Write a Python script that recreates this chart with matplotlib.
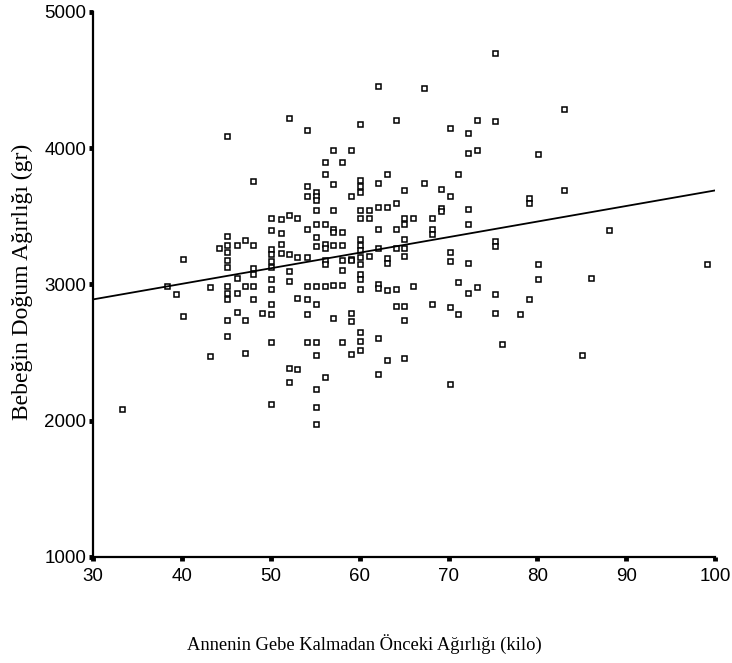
import matplotlib
matplotlib.use("Agg")
import matplotlib.pyplot as plt
import numpy as np

# mother's pre-pregnancy weight (kg) -> baby's birth weight (g)
weights = {
    33.3: [2083],
    38.3: [2985],
    39.3: [2927],
    40.1: [3183, 2765],
    43.2: [2978, 2472],
    44.2: [3271],
    45.1: [4086, 3352, 3293, 3240, 3176, 3130, 2985, 2940, 2890, 2736, 2618],
    46.2: [3293, 3044, 2934, 2795],
    47.1: [3323, 2985, 2736, 2494],
    48.0: [3756, 3286, 3117, 3073, 2985, 2890],
    49.0: [2787],
    50.0: [3484, 3396, 3257, 3220, 3169, 3130, 3037, 2963, 2853, 2780, 2574, 2120],
    51.2: [3477, 3381, 3300, 3227],
    52.1: [4222, 3506, 3220, 3095, 3022, 2384, 2281],
    53.0: [3491, 3198, 2897, 2376],
    54.1: [4137, 3726, 3646, 3404, 3198, 2985, 2890, 2780, 2574],
    55.1: [3682, 3646, 3616, 3543, 3447, 3345, 3279, 2985, 2853, 2574, 2479, 2230, 2097, 1973],
    56.1: [3895, 3807, 3440, 3300, 3264, 3176, 3147, 2985, 2318],
    57.0: [3990, 3734, 3543, 3404, 3382, 3286, 2993, 2750],
    58.0: [3895, 3382, 3286, 3176, 3103, 2993, 2574],
    59.0: [3990, 3646, 3183, 3176, 2787, 2729, 2486],
    60.0: [4180, 3770, 3726, 3682, 3543, 3484, 3330, 3290, 3250, 3198, 3150, 3080,
           3037, 2963, 2648, 2582, 2516],
    61.0: [3543, 3484, 3205],
    62.1: [4460, 3741, 3565, 3404, 3271, 3000, 2971, 2604, 2340],
    63.1: [3807, 3565, 3191, 3154, 2956, 2442],
    64.1: [4210, 3594, 3404, 3264, 2963, 2839],
    65.0: [3690, 3484, 3447, 3330, 3264, 3205, 2839, 2736, 2457],
    66.0: [3484, 2985],
    67.2: [4440, 3741],
    68.1: [3484, 3404, 3367, 2853],
    69.2: [3704, 3558, 3536],
    70.2: [4145, 3646, 3235, 3169, 2831, 2266],
    71.1: [3807, 3015, 2780],
    72.2: [4108, 3961, 3550, 3440, 3154, 2934],
    73.2: [4210, 3990, 2978],
    75.2: [4700, 4196, 3316, 3279, 2927, 2787],
    76.0: [2560],
    78.0: [2780],
    79.0: [3631, 3594, 2890],
    80.1: [3954, 3147, 3037],
    83.0: [4284, 3690],
    85.0: [2479],
    86.0: [3044],
    88.1: [3396],
    99.1: [3147],
}

# fitted line
fit_x = [30, 100]
fit_y = [2890, 3690]

x_ticks = [30, 40, 50, 60, 70, 80, 90, 100]
y_ticks = [1000, 2000, 3000, 4000, 5000]

mother = []
baby = []
for k, vals in weights.items():
    for v in vals:
        mother.append(k)
        baby.append(v)

fig = plt.figure(figsize=(7.32, 6.63), dpi=100)
ax = fig.add_axes([0.127, 0.160, 0.850, 0.822])

ax.plot(mother, baby, linestyle="none", marker="s", markersize=3.6,
        markerfacecolor="white", markeredgecolor="black", markeredgewidth=1.1)
ax.plot(fit_x, fit_y, color="black", linewidth=1.3)

ax.set_xlim(30, 100)
ax.set_ylim(1000, 5000)
ax.set_xticks(x_ticks)
ax.set_yticks(y_ticks)

for side in ["top", "right"]:
    ax.spines[side].set_visible(False)
ax.spines["left"].set_linewidth(1.6)
ax.spines["bottom"].set_linewidth(1.6)

ax.tick_params(axis="both", direction="out", length=3, width=3.5, colors="black")
ax.tick_params(axis="x", pad=5)
ax.tick_params(axis="y", pad=2)
for lab in ax.get_xticklabels() + ax.get_yticklabels():
    lab.set_fontfamily("Liberation Sans")
    lab.set_fontsize(13.5)

ax.set_xlabel("Annenin Gebe Kalmadan Önceki Ağırlığı (kilo)",
              family="Liberation Serif", fontsize=13.3)
ax.set_ylabel("Bebeğin Doğum Ağırlığı (gr)",
              family="Liberation Serif", fontsize=17)
ax.xaxis.set_label_coords(0.436, -0.142)
ax.yaxis.set_label_coords(-0.097, 0.505)

fig.savefig("out.png", dpi=100)
